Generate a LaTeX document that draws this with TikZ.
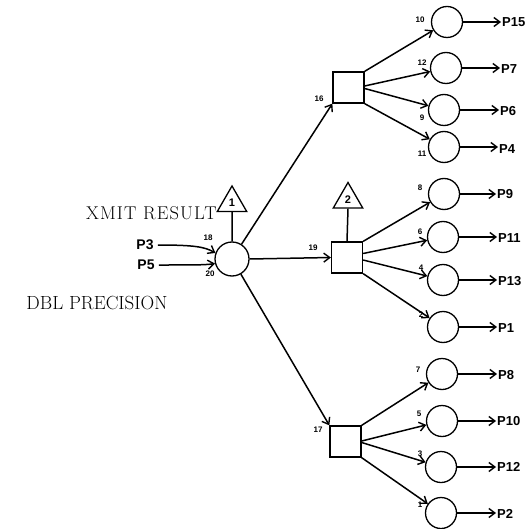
\documentclass[tikz,border=0pt]{standalone}
\usepackage{fontspec}
\newfontfamily\lblfont{Liberation Sans}
\newfontfamily\serifsp{Latin Modern Roman}[LetterSpace=6]
\newfontfamily\serifpl{Latin Modern Roman}
\usetikzlibrary{arrows.meta,shapes.geometric}
\begin{document}
\begin{tikzpicture}[x=1pt,y=1pt,
  ln/.style={line width=1.5pt},
  arr/.style={ln,-{Straight Barb[length=6pt,width=9pt,line width=1.4pt]}},
  circ/.style={line width=1.3pt,draw,circle,minimum size=31pt,inner sep=0pt},
  bigcirc/.style={line width=1.3pt,draw,circle,minimum size=34pt,inner sep=0pt},
  sq/.style={line width=1.3pt,draw,rectangle,minimum size=31pt,inner sep=0pt},
  tri/.style={line width=1.3pt,draw,regular polygon,regular polygon sides=3,minimum size=34pt,inner sep=0pt,font=\lblfont\bfseries\fontsize{11}{11}\selectfont},
  num/.style={font=\lblfont\bfseries\fontsize{8}{8}\selectfont,inner sep=0pt},
  plbl/.style={font=\lblfont\bfseries\fontsize{13}{13}\selectfont,inner sep=1pt,anchor=west},
  big/.style={inner sep=0pt}]
\path[use as bounding box] (0,0) rectangle (524,-529);

% central node
\node[bigcirc] (c0) at (232,-259) {};
\node[tri] (t1) at (232,-203) {1};
\draw[ln] (t1.south) -- (c0.north);

% squares
\node[sq] (s16) at (348.5,-87.5) {};
\node[sq] (s19) at (347,-257.5) {};
\node[sq] (s17) at (345.5,-441.5) {};
\node[tri] (t2) at (348,-199.5) {2};
\draw[ln] (t2.south) -- (s19.north);

% right circles
\node[circ] (c10) at (447,-22) {};
\node[circ] (c12) at (446,-68) {};
\node[circ] (c9)  at (444,-110) {};
\node[circ] (c11) at (444,-147) {};
\node[circ] (c8)  at (444,-194) {};
\node[circ] (c6)  at (443,-237) {};
\node[circ] (c4)  at (443,-280) {};
\node[circ] (c2)  at (443,-327) {};
\node[circ] (c7)  at (442,-374) {};
\node[circ] (c5)  at (442,-421) {};
\node[circ] (c3)  at (441,-467) {};
\node[circ] (c1)  at (441,-513) {};

% output labels
\node[plbl] (p15) at (501,-22) {P15};
\node[plbl] (p7)  at (500,-69) {P7};
\node[plbl] (p6)  at (499,-111) {P6};
\node[plbl] (p4)  at (498,-149) {P4};
\node[plbl] (p9)  at (496,-194) {P9};
\node[plbl] (p11) at (497,-238) {P11};
\node[plbl] (p13) at (497,-281) {P13};
\node[plbl] (p1)  at (497,-328) {P1};
\node[plbl] (p8)  at (497,-375) {P8};
\node[plbl] (p10) at (496,-421) {P10};
\node[plbl] (p12) at (496,-467) {P12};
\node[plbl] (p2)  at (496,-514) {P2};

\foreach \c/\p in {c10/p15,c12/p7,c9/p6,c11/p4,c8/p9,c6/p11,c4/p13,c2/p1,c7/p8,c5/p10,c3/p12,c1/p2}
  \draw[arr] (\c.east) -- (\p.west |- \c.east);

% central to squares
\draw[arr] (c0) -- (s16.south west);
\draw[arr] (c0.east) -- (s19.west);
\draw[arr] (c0) -- (s17.north west);

% squares to circles
\draw[arr] (s16.north east) -- (c10);
\draw[arr] ([yshift=1.5pt]s16.east) -- (c12);
\draw[arr] ([yshift=-1pt]s16.east) -- (c9);
\draw[arr] (s16.south east) -- (c11);
\draw[arr] (s19.north east) -- (c8);
\draw[arr] ([yshift=4pt]s19.east) -- (c6);
\draw[arr] ([yshift=-2.5pt]s19.east) -- (c4);
\draw[arr] (s19.south east) -- (c2);
\draw[arr] (s17.north east) -- (c7);
\draw[arr] ([yshift=0.5pt]s17.east) -- (c5);
\draw[arr] ([yshift=-1pt]s17.east) -- (c3);
\draw[arr] (s17.south east) -- (c1);

% inputs
\node[plbl,anchor=center,font=\lblfont\bfseries\fontsize{14}{14}\selectfont] (p3) at (145,-245) {P3};
\node[plbl,anchor=center,font=\lblfont\bfseries\fontsize{14}{14}\selectfont] (p5) at (146,-265) {P5};
\draw[arr] ([xshift=3pt]p3.east) .. controls (195,-245) and (205,-247) .. (c0.160);
\draw[arr] ([xshift=3pt]p5.east) .. controls (195,-265) and (205,-265) .. (c0.195);

% numbers
\node[num] (n10) at (420,-20) {10};
\node[num] (n12) at (422,-63) {12};
\node[num] (n9)  at (422,-118) {9};
\node[num] (n11) at (422,-154) {11};
\node[num] (n8)  at (420,-188) {8};
\node[num] (n6)  at (420,-232) {6};
\node[num] (n4)  at (421,-268) {4};
\node[num] (n2)  at (421,-315) {2};
\node[num] (n7)  at (418,-370) {7};
\node[num] (n5)  at (419,-414) {5};
\node[num] (n3)  at (420,-454) {3};
\node[num] (n1)  at (420,-505) {1};
\node[num] (n16) at (319,-99) {16};
\node[num] (n19) at (313,-248) {19};
\node[num] (n17) at (318,-430) {17};
\node[num] (n18) at (208,-238) {18};
\node[num] (n20) at (210,-274) {20};

% texts
\node[big,font=\serifsp\fontsize{18.5}{18.5}\selectfont] (xmit) at (151.5,-213) {XMIT RESULT};
\node[big,font=\serifpl\fontsize{19}{19}\selectfont] (dbl) at (97,-303) {DBL PRECISION};
\end{tikzpicture}
\end{document}
